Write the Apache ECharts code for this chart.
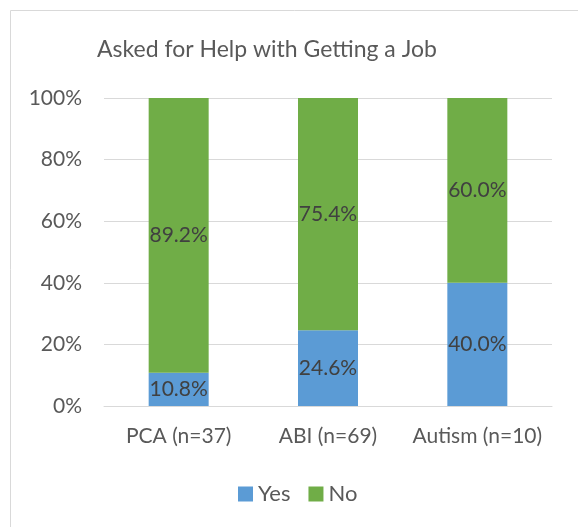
<!DOCTYPE html>
<html><head><meta charset="utf-8">
<script src="https://cdn.jsdelivr.net/npm/echarts@6/dist/echarts.min.js"></script>
<style>html,body{margin:0;padding:0;background:#fff}#c{width:578px;height:527px}</style>
</head><body><div id="c"></div>
<script>
const categories = ['PCA (n=37)', 'ABI (n=69)', 'Autism (n=10)'];
const yesValues = [10.8, 24.6, 40.0];
const noValues = [89.2, 75.4, 60.0];
const yTicks = [0, 20, 40, 60, 80, 100];
const FONT = 'Lato';
const chart = echarts.init(document.getElementById('c'), null, {renderer: 'canvas'});
const lbl = {show: true, position: 'inside', color: '#404040', fontSize: 21, fontFamily: FONT,
  formatter: p => p.value.toFixed(1) + '%'};
chart.setOption({
  animation: false,
  graphic: [{type: 'rect', shape: {x: 10.5, y: 10.5, width: 700, height: 700}, style: {fill: 'none', stroke: '#D9D9D9', lineWidth: 1}}],
  title: {text: 'Asked for Help with Getting a Job', left: 92, top: 33,
    textStyle: {color: '#595959', fontSize: 23, fontWeight: 'normal', fontFamily: FONT}},
  legend: {top: 478, left: 233, itemWidth: 15, itemHeight: 15, itemGap: 18,
    textStyle: {color: '#595959', fontSize: 22, fontFamily: FONT},
    data: [{name: 'Yes', icon: 'rect'}, {name: 'No', icon: 'rect'}]},
  grid: {left: 104, right: 26, top: 98, bottom: 121},
  xAxis: {type: 'category', data: categories,
    axisLine: {lineStyle: {color: '#D9D9D9', width: 1}}, axisTick: {show: false},
    axisLabel: {color: '#595959', fontSize: 21, fontFamily: FONT, margin: 20, interval: 0}},
  yAxis: {type: 'value', min: 0, max: 100, interval: 20,
    axisLabel: {color: '#595959', fontSize: 21, fontFamily: FONT, margin: 22, formatter: v => v + '%'},
    splitLine: {lineStyle: {color: '#D9D9D9', width: 1}}, axisLine: {show: false}, axisTick: {show: false}},
  series: [
    {name: 'Yes', type: 'bar', stack: 's', data: yesValues, barWidth: 60, itemStyle: {color: '#5B9BD5'}, label: lbl},
    {name: 'No', type: 'bar', stack: 's', data: noValues, barWidth: 60, itemStyle: {color: '#70AD47'}, label: lbl}
  ]
});
</script></body></html>
